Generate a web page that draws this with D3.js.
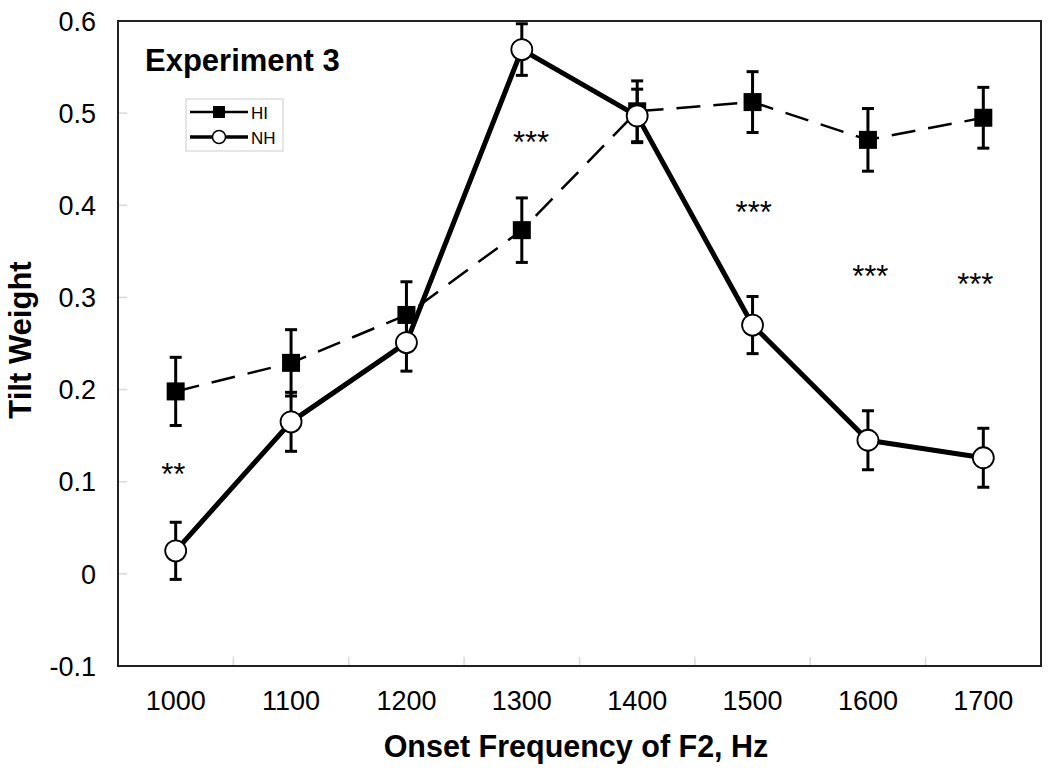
<!DOCTYPE html>
<html><head><meta charset="utf-8">
<script src="https://cdn.jsdelivr.net/npm/d3@7"></script>
<style>body{margin:0;background:#fff}svg{display:block}text{font-family:"Liberation Sans",Arial,sans-serif}</style>
</head><body>
<svg id="c" width="1050" height="778"></svg>
<script>
const categories = ["1000","1100","1200","1300","1400","1500","1600","1700"];
const hiValues = [0.198,0.229,0.281,0.373,0.502,0.512,0.471,0.495];
const hiErrors = [0.037,0.036,0.036,0.035,0.033,0.033,0.034,0.033];
const nhValues = [0.025,0.165,0.251,0.569,0.497,0.270,0.145,0.126];
const nhErrors = [0.031,0.032,0.031,0.028,0.029,0.031,0.032,0.032];
const yTicks = [-0.1,0,0.1,0.2,0.3,0.4,0.5,0.6];
const sigLabels = ["**","***","***","***","***"];
const sigX = [998,1308,1501,1602,1693];
const sigY = [0.116,0.476,0.400,0.330,0.322];
const seriesNames = ["HI","NH"];

const svg = d3.select("#c");
const L=118, R=1041, T=21, B=666;
const x = d3.scaleBand().domain(categories).range([L,R]);
const y = d3.scaleLinear().domain([-0.1,0.6]).range([B,T]);
const cx = c => x(c)+x.bandwidth()/2;
const xHz = d3.scaleLinear().domain([+categories[0], +categories[categories.length-1]]).range([cx(categories[0]), cx(categories[categories.length-1])]);

// inner ticks (light gray)
const tg = svg.append("g");
yTicks.forEach(v=>{ tg.append("line").attr("x1",L).attr("x2",L+9).attr("y1",y(v)).attr("y2",y(v)).attr("stroke","#d9d9d9").attr("stroke-width",1.5); });
categories.slice(1).forEach(c=>{ const xx=x(c); tg.append("line").attr("x1",xx).attr("x2",xx).attr("y1",B).attr("y2",B-9).attr("stroke","#d9d9d9").attr("stroke-width",1.5); });

// frame
svg.append("rect").attr("x",L).attr("y",T).attr("width",R-L).attr("height",B-T).attr("fill","none").attr("stroke","#222").attr("stroke-width",2);

// y tick labels
const fmt = v => v===0 ? "0" : (v<0? "-" : "") + d3.format(".1f")(Math.abs(v));
yTicks.forEach(v=>{ svg.append("text").attr("x",96).attr("y",y(v)).attr("dy","0.36em").attr("text-anchor","end").attr("font-size",27).text(fmt(v)); });
// x tick labels
categories.forEach(c=>{ svg.append("text").attr("x",cx(c)).attr("y",710).attr("text-anchor","middle").attr("font-size",27).text(c); });

// axis titles
svg.append("text").attr("x",576).attr("y",757).attr("text-anchor","middle").attr("font-size",30.5).attr("font-weight","bold").text("Onset Frequency of F2, Hz");
svg.append("text").attr("transform","translate(31,340) rotate(-90)").attr("text-anchor","middle").attr("font-size",31).attr("font-weight","bold").text("Tilt Weight");

// title inside
svg.append("text").attr("x",145).attr("y",71).attr("font-size",31).attr("font-weight","bold").text("Experiment 3");

const line = d3.line().x((d,i)=>cx(categories[i])).y(d=>y(d));

function errBars(vals, errs){
  const g = svg.append("g").attr("stroke","#000").attr("stroke-width",3);
  vals.forEach((v,i)=>{
    const xx=cx(categories[i]);
    g.append("line").attr("x1",xx).attr("x2",xx).attr("y1",y(v+errs[i])).attr("y2",y(v-errs[i]));
    g.append("line").attr("x1",xx-6).attr("x2",xx+6).attr("y1",y(v+errs[i])).attr("y2",y(v+errs[i]));
    g.append("line").attr("x1",xx-6).attr("x2",xx+6).attr("y1",y(v-errs[i])).attr("y2",y(v-errs[i]));
  });
}

// HI
svg.append("path").datum(hiValues).attr("d",line).attr("fill","none").attr("stroke","#000").attr("stroke-width",2.5).attr("stroke-dasharray","24,13");
errBars(hiValues, hiErrors);
svg.append("g").selectAll("rect").data(hiValues).join("rect")
  .attr("x",(d,i)=>cx(categories[i])-9).attr("y",d=>y(d)-9).attr("width",18).attr("height",18).attr("fill","#000");

// NH
svg.append("path").datum(nhValues).attr("d",line).attr("fill","none").attr("stroke","#000").attr("stroke-width",5).attr("stroke-linejoin","round");
errBars(nhValues, nhErrors);
svg.append("g").selectAll("circle").data(nhValues).join("circle")
  .attr("cx",(d,i)=>cx(categories[i])).attr("cy",d=>y(d)).attr("r",10.5).attr("fill","#fff").attr("stroke","#000").attr("stroke-width",1.8);

// significance
sigLabels.forEach((s,i)=>{
  svg.append("text").attr("x",xHz(sigX[i])).attr("y",y(sigY[i])).attr("dy","0.57em").attr("text-anchor","middle").attr("font-size",31).text(s);
});

// legend
const lg = svg.append("g");
lg.append("rect").attr("x",186).attr("y",99).attr("width",97).attr("height",52).attr("fill","#fff").attr("stroke","#ccc").attr("stroke-width",1);
lg.append("line").attr("x1",190).attr("x2",248).attr("y1",112).attr("y2",112).attr("stroke","#000").attr("stroke-width",2.5);
lg.append("rect").attr("x",213).attr("y",106).attr("width",12).attr("height",12).attr("fill","#000");
lg.append("text").attr("x",251).attr("y",113).attr("dy","0.36em").attr("font-size",17).text(seriesNames[0]);
lg.append("line").attr("x1",190).attr("x2",248).attr("y1",137).attr("y2",137).attr("stroke","#000").attr("stroke-width",3.5);
lg.append("circle").attr("cx",219).attr("cy",137).attr("r",6.5).attr("fill","#fff").attr("stroke","#000").attr("stroke-width",1.5);
lg.append("text").attr("x",251).attr("y",138).attr("dy","0.36em").attr("font-size",17).text(seriesNames[1]);
</script>
</body></html>
